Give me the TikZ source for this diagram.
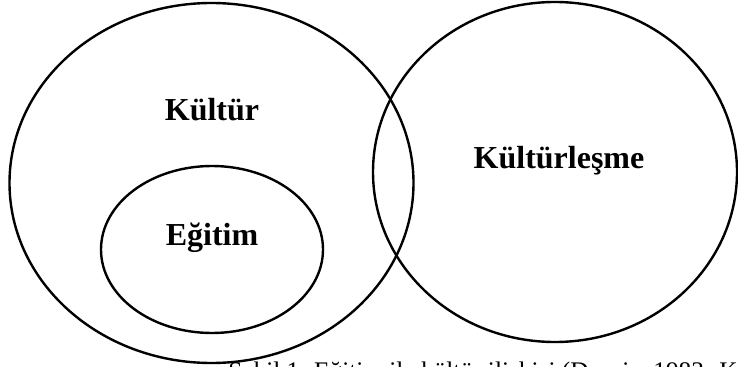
\documentclass[tikz,border=0pt]{standalone}
\usepackage{fontspec}
\setmainfont{Liberation Serif}
\usepackage{tikz}

\tikzset{
  ring/.style={draw=black,line width=1.8pt},
  label/.style={font=\fontsize{24}{28}\selectfont\bfseries,inner sep=0pt},
  caption/.style={font=\fontsize{19}{23}\selectfont,inner sep=0pt,anchor=base west}
}

\begin{document}
\begin{tikzpicture}[x=0.75pt,y=-0.75pt]
    %frame
    \clip (0,0) rectangle (738,367);
    \fill[white] (0,0) rectangle (738,367);

    %ellipses
    \draw[ring] (211.5,183) ellipse [x radius=202,y radius=180];
    \draw[ring] (212,249.5) ellipse [x radius=111,y radius=83.5];
    \draw[ring] (555,172) ellipse [x radius=182,y radius=170];

    %labels
    \node[label] (kultur) at (212,110) {Kültür};
    \node[label] (egitim) at (212,238) {Eğitim};
    \node[label] (kulturlesme) at (559,161) {Kültürleşme};

    %caption
    \node[caption] (sekil) at (228,379) {Şekil 1. Eğitim ile kültür ilişkisi (Duruiz, 1983: K};
\end{tikzpicture}
\end{document}
